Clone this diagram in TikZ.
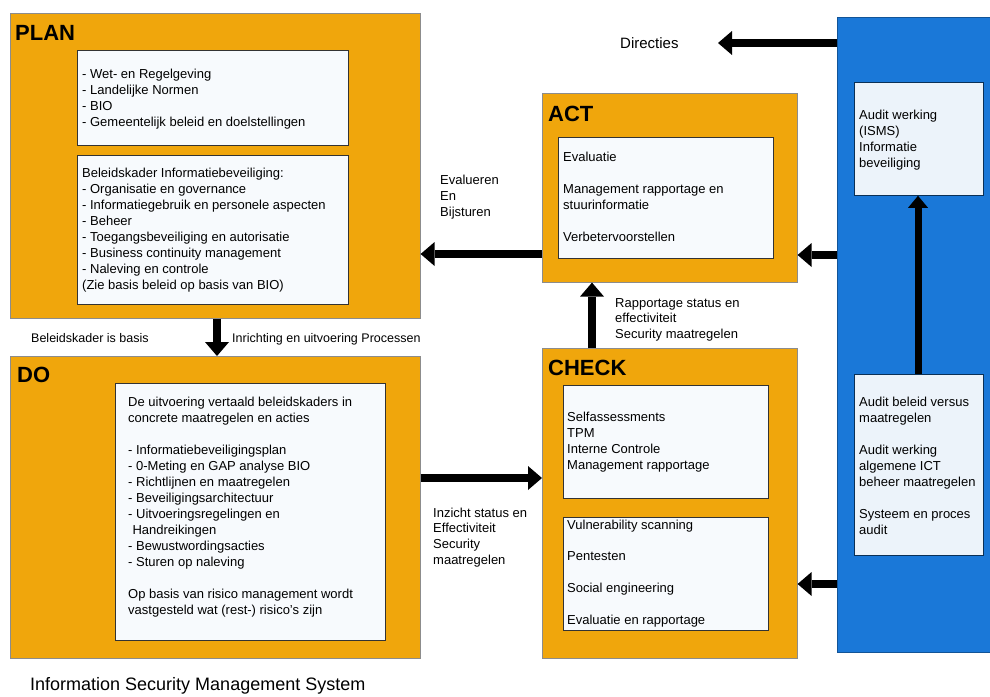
\documentclass[tikz,border=0pt]{standalone}
\usepackage{fontspec}
\setmainfont{Liberation Sans}
\usetikzlibrary{arrows.meta}
\definecolor{orng}{RGB}{240,166,12}
\definecolor{blu}{RGB}{26,120,216}
\definecolor{inwhite}{RGB}{247,250,253}
\definecolor{inblue}{RGB}{236,243,250}
\newcommand{\fs}{\rule{0pt}{10pt}}
\tikzset{
  obox/.style={draw=black!45, line width=0.6pt, fill=orng, anchor=north west, inner sep=0pt},
  ibox/.style={draw=black!80, line width=0.8pt, fill=inwhite, anchor=north west, inner sep=0pt},
  bpanel/.style={draw=blu!70!black, line width=0.6pt, fill=blu, anchor=north west, inner sep=0pt},
  bibox/.style={draw=blu!40!black, line width=0.8pt, fill=inblue, anchor=north west, inner sep=0pt},
  txt/.style={anchor=north west, inner sep=0pt, align=left, font=\fontsize{13}{16}\selectfont},
  lbl/.style={anchor=base west, inner sep=0pt, font=\fontsize{12.5}{15}\selectfont},
  ttl/.style={anchor=base west, inner sep=0pt, font=\fontsize{22}{26}\selectfont\bfseries},
  arr/.style={line width=8pt, -{Triangle[width=24pt,length=14pt,line width=0pt]}},
  arrthin/.style={line width=7pt, -{Triangle[width=20pt,length=12pt,line width=0pt]}},
}
\begin{document}
\begin{tikzpicture}[x=1pt,y=-1pt]
\useasboundingbox (0,0) rectangle (990,696);
\fill[white] (0,0) rectangle (990,696);

% main boxes
\node[obox, minimum width=410pt, minimum height=305pt] (plan) at (10,13) {};
\node[obox, minimum width=410pt, minimum height=302pt] (do) at (10,356) {};
\node[obox, minimum width=255pt, minimum height=189pt] (act) at (542,93) {};
\node[obox, minimum width=255pt, minimum height=310pt] (check) at (542,348) {};
\node[bpanel, minimum width=154pt, minimum height=635pt] (blue) at (837,17) {};

% inner boxes
\node[ibox, minimum width=271pt, minimum height=95pt] (p1) at (77,50) {};
\node[ibox, minimum width=271pt, minimum height=149pt] (p2) at (77,155) {};
\node[ibox, minimum width=270pt, minimum height=257pt] (d1) at (115,383) {};
\node[ibox, minimum width=215pt, minimum height=121pt] (a1) at (558,137) {};
\node[ibox, minimum width=205pt, minimum height=113pt] (c1) at (563,385) {};
\node[ibox, minimum width=205pt, minimum height=113pt] (c2) at (563,517) {};
\node[bibox, minimum width=129pt, minimum height=113pt] (b1) at (854,82) {};
\node[bibox, minimum width=129pt, minimum height=181pt] (b2) at (854,374) {};

% titles
\node[ttl] (tplan) at (15,40) {PLAN};
\node[ttl] (tdo) at (17,382) {DO};
\node[ttl] (tact) at (548,121) {ACT};
\node[ttl] (tcheck) at (548,375) {CHECK};

% box texts
\node[txt] (tp1) at (82,68) {\fs- Wet- en Regelgeving\\- Landelijke Normen\\- BIO\\- Gemeentelijk beleid en doelstellingen};
\node[txt] (tp2) at (82,167) {\fs Beleidskader Informatiebeveiliging:\\- Organisatie en governance\\- Informatiegebruik en personele aspecten\\- Beheer\\- Toegangsbeveiliging en autorisatie\\- Business continuity management\\- Naleving en controle\\(Zie basis beleid op basis van BIO)};
\node[txt] (td1) at (128,396) {\fs De uitvoering vertaald beleidskaders in\\concrete maatregelen en acties\\[16pt]- Informatiebeveiligingsplan\\- 0-Meting en GAP analyse BIO\\- Richtlijnen en maatregelen\\- Beveiligingsarchitectuur\\- Uitvoeringsregelingen en\\\phantom{-}Handreikingen\\- Bewustwordingsacties\\- Sturen op naleving\\[16pt]Op basis van risico management wordt\\vastgesteld wat (rest-) risico's zijn};
\node[txt] (ta1) at (563,151) {\fs Evaluatie\\[16pt]Management rapportage en\\stuurinformatie\\[16pt]Verbetervoorstellen};
\node[txt] (tc1) at (567,411) {\fs Selfassessments\\TPM\\Interne Controle\\Management rapportage};
\node[txt] (tc2) at (567,519) {\fs Vulnerability scanning\\[15.7pt]Pentesten\\[15.7pt]Social engineering\\[15.7pt]Evaluatie en rapportage};
\node[txt] (tb1) at (859,109) {\fs Audit werking\\(ISMS)\\Informatie\\beveiliging};
\node[txt] (tb2) at (859,396) {\fs Audit beleid versus\\maatregelen\\[16pt]Audit werking\\algemene ICT\\beheer maatregelen\\[16pt]Systeem en proces\\audit};

% free labels
\node[txt] (lev) at (440,174) {\fs Evalueren\\En\\Bijsturen};
\node[txt, font=\fontsize{13}{15.5}\selectfont] (lrap) at (615,297) {\fs Rapportage status en\\effectiviteit\\Security maatregelen};
\node[txt, font=\fontsize{13}{15.7}\selectfont] (linz) at (433,507) {\fs Inzicht status en\\Effectiviteit\\Security\\maatregelen};
\node[lbl] (lbel) at (31,342) {Beleidskader is basis};
\node[lbl] (linr) at (232,342) {Inrichting en uitvoering Processen};
\node[anchor=base west, inner sep=0pt, font=\fontsize{15}{18}\selectfont] (ldir) at (620,48) {Directies};
\node[anchor=base west, inner sep=0pt, font=\fontsize{18}{22}\selectfont] (lisms) at (30,690) {Information Security Management System};

% connectors
\coordinate (dirtip) at (718,43);
\draw[arr] (blue.west|-0,43) -- (dirtip);
\draw[arr] (blue.west|-0,255) -- (act.east|-0,255);
\draw[arr] (blue.west|-0,584) -- (check.east|-0,584);
\draw[arr] (act.west|-0,254) -- (plan.east|-0,254);
\draw[arr] (plan.south-|217,0) -- (do.north-|217,0);
\draw[arr] (do.east|-0,478) -- (check.west|-0,478);
\draw[arr] (check.north-|592,0) -- (act.south-|592,0);
\draw[arrthin] (b2.north-|918,0) -- (b1.south-|918,0);
\end{tikzpicture}
\end{document}
